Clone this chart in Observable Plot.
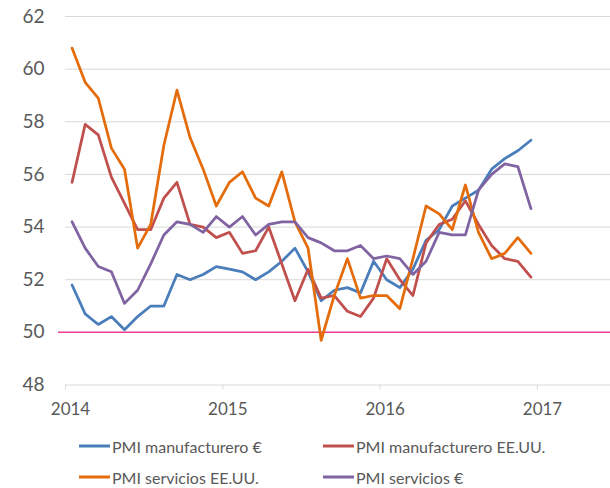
<!DOCTYPE html>
<html>
<head>
<meta charset="utf-8">
<script src="https://cdn.jsdelivr.net/npm/d3@7"></script>
<script src="https://cdn.jsdelivr.net/npm/@observablehq/plot@0.6"></script>
<style>
  html, body { margin: 0; padding: 0; background: #fff; }
  #wrap { position: relative; width: 610px; height: 488px; font-family: Lato, "Liberation Sans", sans-serif; }
  .item { position: absolute; display: flex; align-items: center; font-size: 16px; color: #595959; white-space: nowrap; transform: translateY(-50%); }
  .sw { display: inline-block; width: 31px; height: 3px; margin-right: 2px; }
</style>
</head>
<body>
<div id="wrap"></div>
<script>
// ---- data ----
const startYear = 2014;
const yearTicks = [2014, 2015, 2016, 2017];
const yTicks = [48, 50, 52, 54, 56, 58, 60, 62];
const seriesNames = ["PMI manufacturero €", "PMI manufacturero EE.UU.", "PMI servicios EE.UU.", "PMI servicios €"];
const seriesColors = ["#4a7ebb", "#c0504d", "#e46c0a", "#8064a2"];
const referenceLevel = 50;

const manufEUR = [51.8, 50.7, 50.3, 50.6, 50.1, 50.6, 51.0, 51.0, 52.2, 52.0,
                  52.2, 52.5, 52.4, 52.3, 52.0, 52.3, 52.7, 53.2, 52.3, 51.2,
                  51.6, 51.7, 51.5, 52.7, 52.0, 51.7, 52.4, 53.5, 53.9, 54.8,
                  55.1, 55.4, 56.2, 56.6, 56.9, 57.3];
const manufUS  = [55.7, 57.9, 57.5, 55.9, 54.9, 53.9, 53.9, 55.1, 55.7, 54.1,
                  54.0, 53.6, 53.8, 53.0, 53.1, 54.0, 52.6, 51.2, 52.4, 51.3,
                  51.4, 50.8, 50.6, 51.3, 52.8, 52.0, 51.4, 53.4, 54.1, 54.3,
                  55.0, 54.1, 53.3, 52.8, 52.7, 52.1];
const servUS   = [60.8, 59.5, 58.9, 57.0, 56.2, 53.2, 54.1, 57.1, 59.2, 57.4,
                  56.2, 54.8, 55.7, 56.1, 55.1, 54.8, 56.1, 54.2, 53.2, 49.7,
                  51.4, 52.8, 51.3, 51.4, 51.4, 50.9, 52.8, 54.8, 54.5, 53.9,
                  55.6, 53.8, 52.8, 53.0, 53.6, 53.0];
const servEUR  = [54.2, 53.2, 52.5, 52.3, 51.1, 51.6, 52.6, 53.7, 54.2, 54.1,
                  53.8, 54.4, 54.0, 54.4, 53.7, 54.1, 54.2, 54.2, 53.6, 53.4,
                  53.1, 53.1, 53.3, 52.8, 52.9, 52.8, 52.2, 52.7, 53.8, 53.7,
                  53.7, 55.4, 56.0, 56.4, 56.3, 54.7];
const seriesValues = [manufEUR, manufUS, servUS, servEUR];

// monthly positions (mid-month) as fractional years
const months = d3.range(manufEUR.length).map(i => startYear + (i + 0.5) / 12);
const rows = [];
seriesValues.forEach((vals, s) => vals.forEach((v, i) => rows.push({ series: seriesNames[s], x: months[i], y: v })));

const xMax = 2017.464;
const chart = Plot.plot({
  width: 610,
  height: 425,
  marginLeft: 65,
  marginRight: 0,
  marginTop: 16,
  marginBottom: 40.5,
  style: { fontFamily: 'Lato, "Liberation Sans", sans-serif', color: "#595959", background: "white" },
  x: { domain: [2014, xMax], label: null },
  y: { domain: [48, 62], label: null },
  color: { domain: seriesNames, range: seriesColors },
  marks: [
    Plot.gridY(yTicks, { stroke: "#d9d9d9", strokeOpacity: 1, strokeWidth: 1 }),
    Plot.axisX(yearTicks, { tickSize: 5, tickFormat: () => "", stroke: "#d9d9d9", strokeOpacity: 1, label: null }),
    Plot.axisX(yearTicks, { tickSize: 0, tickPadding: 18, dx: 5, fontSize: 17, tickFormat: d => String(d), label: null }),
    Plot.axisY(yTicks, { tickSize: 0, tickPadding: 21, fontSize: 19, tickFormat: d => String(d), label: null }),
    Plot.ruleY([referenceLevel], { x1: 2014 - 7 / 157.3, x2: xMax, stroke: "#ec3f93", strokeWidth: 1.5 }),
    Plot.line(rows, { x: "x", y: "y", z: "series", stroke: "series", strokeWidth: 2.75, strokeLinejoin: "round", strokeLinecap: "round" })
  ]
});

const wrap = document.getElementById("wrap");
wrap.appendChild(chart);

const legendPos = [[79, 446], [323, 446], [79, 477], [323, 477]];
seriesNames.forEach((name, i) => {
  const item = document.createElement("div");
  item.className = "item";
  item.style.left = legendPos[i][0] + "px";
  item.style.top = legendPos[i][1] + "px";
  const sw = document.createElement("span");
  sw.className = "sw";
  sw.style.background = seriesColors[i];
  item.appendChild(sw);
  item.appendChild(document.createTextNode(name));
  wrap.appendChild(item);
});
</script>
</body>
</html>
